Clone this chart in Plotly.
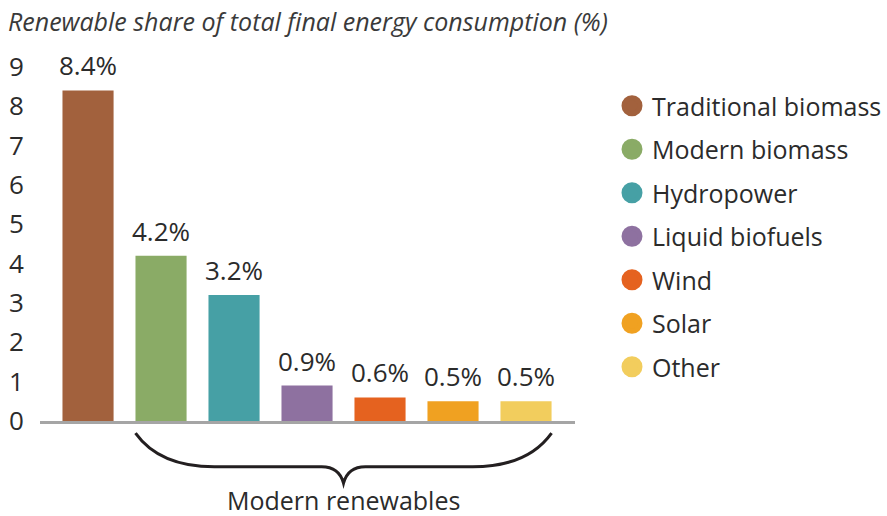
import plotly.graph_objects as go

categories = ["Traditional biomass", "Modern biomass", "Hydropower", "Liquid biofuels", "Wind", "Solar", "Other"]
values = [8.4, 4.2, 3.2, 0.9, 0.6, 0.5, 0.5]
labels = ["8.4%", "4.2%", "3.2%", "0.9%", "0.6%", "0.5%", "0.5%"]
colors = ["#a2613d", "#8aab66", "#46a0a5", "#8e71a0", "#e5621f", "#f0a121", "#f2cd5d"]
y_ticks = [0, 1, 2, 3, 4, 5, 6, 7, 8, 9]
title_text = "Renewable share of total final energy consumption (%)"
brace_text = "Modern renewables"

FONT = "Open Sans"
TXT = "#2b2b2b"
BAR_W = 0.7

xs = list(range(len(categories)))
fig = go.Figure()
fig.add_trace(go.Bar(x=xs, y=values, marker=dict(color=colors, line=dict(width=0)),
                     width=BAR_W, showlegend=False, hoverinfo="skip"))
for c, col in zip(categories, colors):
    fig.add_trace(go.Scatter(x=[None], y=[None], mode="markers", name=c,
                             legendgroup=c,
                             marker=dict(symbol="circle", size=16, color=col,
                                         line=dict(color=col, width=5))))

for x, v, t in zip(xs, values, labels):
    fig.add_annotation(x=x, y=v, text=t, showarrow=False, yanchor="bottom", yshift=5,
                       font=dict(family=FONT, size=26, color=TXT))

# brace under the modern renewables
xl = 1 - BAR_W / 2
xr = len(categories) - 1 + BAR_W / 2
xm = (xl + xr) / 2
yt, yh, yb = -0.033, -0.125, -0.17
path = (f"M {xl},{yt} Q {xl+0.33},{yh} {xl+1.08},{yh} L {xm-0.3},{yh} "
        f"Q {xm-0.06},{yh} {xm},{yb} Q {xm+0.06},{yh} {xm+0.3},{yh} "
        f"L {xr-1.08},{yh} Q {xr-0.33},{yh} {xr},{yt}")
fig.add_shape(type="path", path=path, xref="x", yref="paper",
              line=dict(color="#231f20", width=3))
fig.add_annotation(x=xm, y=-0.215, xref="x", yref="paper", text=brace_text, showarrow=False,
                   yanchor="middle", font=dict(family=FONT, size=25, color=TXT))

fig.update_layout(
    width=887, height=516,
    margin=dict(l=40, r=312, t=55, b=95, autoexpand=False),
    paper_bgcolor="white", plot_bgcolor="white",
    font=dict(family=FONT, color=TXT, size=25),
    title=dict(text=f"<i>{title_text}</i>", x=8/887, xref="container", xanchor="left",
               y=1-22/516, yref="container", yanchor="middle",
               font=dict(family=FONT, size=25, color="#3a3a3a")),
    xaxis=dict(range=[-0.658, 6.671], showticklabels=False, showgrid=False, zeroline=False,
               showline=True, linecolor="#a5a5a5", linewidth=3, ticks="", fixedrange=True),
    yaxis=dict(range=[0, 9.3], tickvals=y_ticks, showgrid=False, zeroline=False, showline=False,
               ticks="outside", ticklen=10, tickcolor="rgba(0,0,0,0)", fixedrange=True,
               tickfont=dict(family=FONT, size=26, color=TXT)),
    legend=dict(xref="container", yref="container", x=612/887, y=1-83/516,
                xanchor="left", yanchor="top", tracegroupgap=8, maxheight=500,
                font=dict(family=FONT, size=25, color=TXT), bgcolor="rgba(0,0,0,0)"),
    bargap=0.3,
)
fig.write_html("out.html", config={"displayModeBar": False},
               post_script="document.body.style.margin='0';")
